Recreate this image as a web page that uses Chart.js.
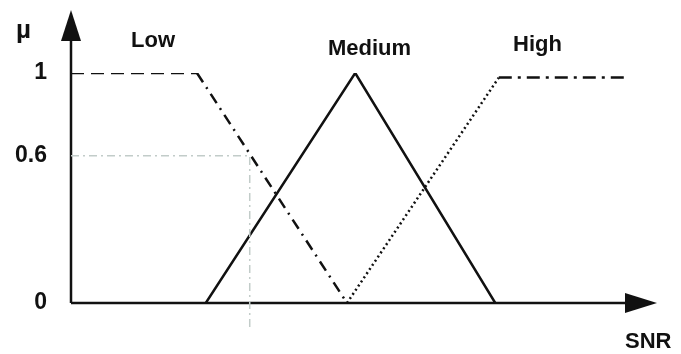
<!DOCTYPE html>
<html>
<head>
<meta charset="utf-8">
<script src="https://cdn.jsdelivr.net/npm/chart.js@4/dist/chart.umd.min.js"></script>
<style>
  html, body { margin: 0; padding: 0; background: #fff; }
  #wrap { width: 681px; height: 354px; position: relative; }
</style>
</head>
<body>
<div id="wrap"><canvas id="fuzzy"></canvas></div>
<script>
// membership functions, x in SNR units (0..100), y = mu
const lowX = [0, 21.5, 47.1];
const lowY = [1, 1, 0];
const mediumX = [23.0, 48.5, 72.4];
const mediumY = [0, 1, 0];
const highX = [47.1, 73.0, 95.1];
const highY = [0, 0.98, 0.98];
// reading guide at mu = 0.6
const guideX = [0, 30.5, 30.5];
const guideY = [0.64, 0.64, -0.11];

const yTickValues = [0, 0.64, 1];
const yTickLabels = ['0', '0.6', '1'];
const setNames = ['Low', 'Medium', 'High'];

const FONT = '"Liberation Sans", Arial, sans-serif';
const INK = '#111';

const pts = (xs, ys) => xs.map((x, i) => ({ x: x, y: ys[i] }));

const axesPlugin = {
  id: 'axes',
  beforeDatasetsDraw(chart) {
    const { ctx, chartArea: a } = chart;
    ctx.save();
    ctx.strokeStyle = INK;
    ctx.fillStyle = INK;
    ctx.lineWidth = 2.5;
    ctx.beginPath();
    ctx.moveTo(a.left, a.bottom);
    ctx.lineTo(a.left, 30);
    ctx.moveTo(a.left, a.bottom);
    ctx.lineTo(a.right - 20, a.bottom);
    ctx.stroke();
    // y arrow
    ctx.beginPath();
    ctx.moveTo(a.left, 10);
    ctx.lineTo(a.left - 10, 41);
    ctx.lineTo(a.left + 10, 41);
    ctx.closePath();
    ctx.fill();
    // x arrow
    ctx.beginPath();
    ctx.moveTo(a.right, a.bottom);
    ctx.lineTo(a.right - 32, a.bottom - 10);
    ctx.lineTo(a.right - 32, a.bottom + 10);
    ctx.closePath();
    ctx.fill();
    ctx.restore();
  },
  afterDraw(chart) {
    const { ctx } = chart;
    ctx.save();
    ctx.fillStyle = INK;
    ctx.textBaseline = 'alphabetic';
    ctx.font = 'bold 22px ' + FONT;
    ctx.fillText(setNames[0], 131, 47);
    ctx.fillText(setNames[1], 328, 55);
    ctx.fillText(setNames[2], 513, 51);
    ctx.fillText('SNR', 625, 348);
    ctx.font = 'bold 26px ' + FONT;
    ctx.fillText('\u00b5', 16, 38);
    ctx.restore();
  }
};

new Chart(document.getElementById('fuzzy'), {
  type: 'scatter',
  data: {
    datasets: [
      {
        label: 'guide',
        data: pts(guideX, guideY),
        showLine: true,
        borderColor: '#c2ccc9',
        borderWidth: 1.5,
        borderDash: [8, 4, 2, 4],
        pointRadius: 0,
        clip: false
      },
      {
        label: setNames[0],
        data: pts(lowX, lowY),
        showLine: true,
        borderColor: INK,
        borderWidth: 2.5,
        pointRadius: 0,
        segment: {
          borderDash: c => c.p0DataIndex === 0 ? [13, 7] : [11, 6, 2, 6]
        }
      },
      {
        label: setNames[1],
        data: pts(mediumX, mediumY),
        showLine: true,
        borderColor: INK,
        borderWidth: 2.5,
        pointRadius: 0
      },
      {
        label: setNames[2],
        data: pts(highX, highY),
        showLine: true,
        borderColor: INK,
        borderWidth: 2.5,
        pointRadius: 0,
        segment: {
          borderDash: c => c.p0DataIndex === 0 ? [2, 3] : [13, 6, 3, 6]
        }
      }
    ]
  },
  options: {
    responsive: true,
    maintainAspectRatio: false,
    animation: false,
    layout: { padding: { left: 0, top: 73, right: 24, bottom: 51 } },
    plugins: { legend: { display: false }, tooltip: { enabled: false } },
    scales: {
      x: { type: 'linear', min: 0, max: 100, display: false },
      y: {
        type: 'linear', min: 0, max: 1,
        grid: { display: false },
        border: { display: false },
        afterBuildTicks: s => { s.ticks = yTickValues.map(v => ({ value: v })); },
        afterFit: s => { s.width = 71; },
        ticks: {
          padding: 16,
          color: INK,
          font: { family: FONT, size: 23, weight: 'bold' },
          callback: (v, i) => yTickLabels[i]
        }
      }
    }
  },
  plugins: [axesPlugin]
});
</script>
</body>
</html>
